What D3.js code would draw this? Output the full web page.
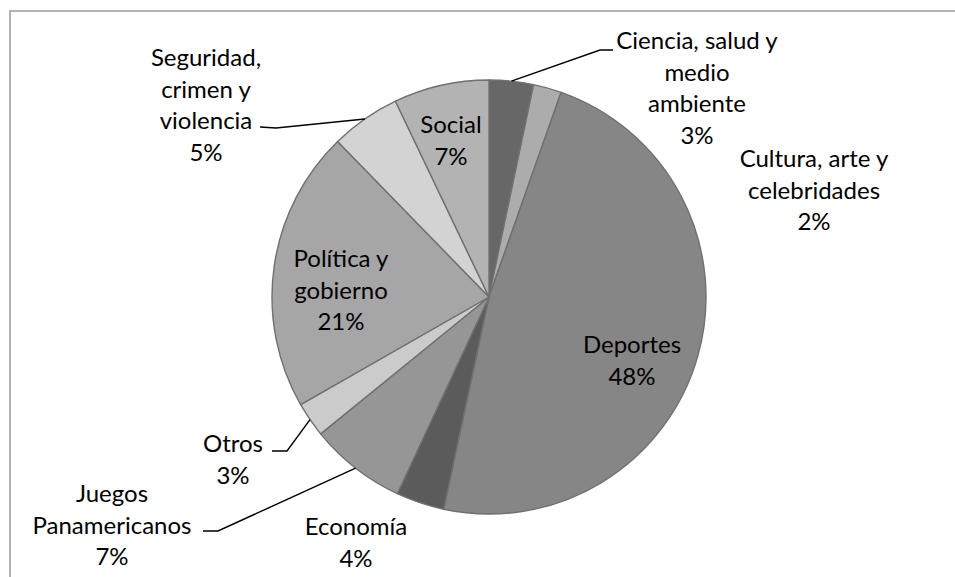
<!DOCTYPE html>
<html>
<head>
<meta charset="utf-8">
<script src="https://cdn.jsdelivr.net/npm/d3@7"></script>
<style>
  html, body { margin: 0; padding: 0; background: #fff; }
  svg { display: block; }
</style>
</head>
<body>
<svg id="chart" width="955" height="577"></svg>
<script>
// ---- data ----
const categories = [
  "Ciencia, salud y\nmedio\nambiente",
  "Cultura, arte y\ncelebridades",
  "Deportes",
  "Economía",
  "Juegos\nPanamericanos",
  "Otros",
  "Política y\ngobierno",
  "Seguridad,\ncrimen y\nviolencia",
  "Social"
];
const values = [3.3, 2.1, 48.0, 3.6, 7.2, 2.6, 21.0, 5.2, 7.1];
const colors = ["#676767", "#acacac", "#868686", "#5b5b5b", "#969696", "#cbcbcb", "#a6a6a6", "#d3d3d3", "#b3b3b3"];

// ---- layout (positions only) ----
const labelPos = [
  {x: 697, y: 49,  leader: [[600, 50], [613, 50]]},
  {x: 814, y: 167},
  {x: 632, y: 353},
  {x: 356, y: 535},
  {x: 112, y: 502, leader: [[218, 531], [203, 531]]},
  {x: 233, y: 452, leader: [[287, 451], [272, 451]]},
  {x: 341, y: 267},
  {x: 206, y: 66,  leader: [[276, 128], [260, 127]]},
  {x: 451, y: 133}
];
const cx = 489, cy = 297, R = 217, lineH = 31.5;

const svg = d3.select("#chart");

// frame
svg.append("rect")
  .attr("x", 10).attr("y", 11).attr("width", 1000).attr("height", 1000)
  .attr("fill", "none").attr("stroke", "#9a9a9a").attr("stroke-width", 1.5);

const total = d3.sum(values);
const pie = d3.pie().sort(null).value(d => d)(values);
const arc = d3.arc().innerRadius(0).outerRadius(R);
const edge = d3.arc().innerRadius(R).outerRadius(R);

const g = svg.append("g").attr("transform", `translate(${cx},${cy})`);
g.selectAll("path.slice").data(pie).join("path")
  .attr("class", "slice")
  .attr("d", arc)
  .attr("fill", (d, i) => colors[i])
  .attr("stroke", "#707070")
  .attr("stroke-width", 1.4)
  .attr("stroke-linejoin", "round");

// leader lines
pie.forEach((d, i) => {
  const lp = labelPos[i];
  if (!lp.leader) return;
  const mid = (d.startAngle + d.endAngle) / 2;
  const p0 = [cx + R * Math.sin(mid), cy - R * Math.cos(mid)];
  const pts = [p0].concat(lp.leader);
  svg.append("path")
    .attr("d", d3.line()(pts))
    .attr("fill", "none")
    .attr("stroke", "#000")
    .attr("stroke-width", 1.4);
});

// labels
pie.forEach((d, i) => {
  const lp = labelPos[i];
  const lines = categories[i].split("\n").concat([Math.round(values[i] / total * 100) + "%"]);
  const t = svg.append("text")
    .attr("text-anchor", "middle")
    .attr("font-family", "Lato, 'Open Sans', sans-serif")
    .attr("font-size", 24)
    .attr("fill", "#000");
  lines.forEach((ln, k) => {
    t.append("tspan").attr("x", lp.x).attr("y", lp.y + k * lineH).text(ln);
  });
});
</script>
</body>
</html>
